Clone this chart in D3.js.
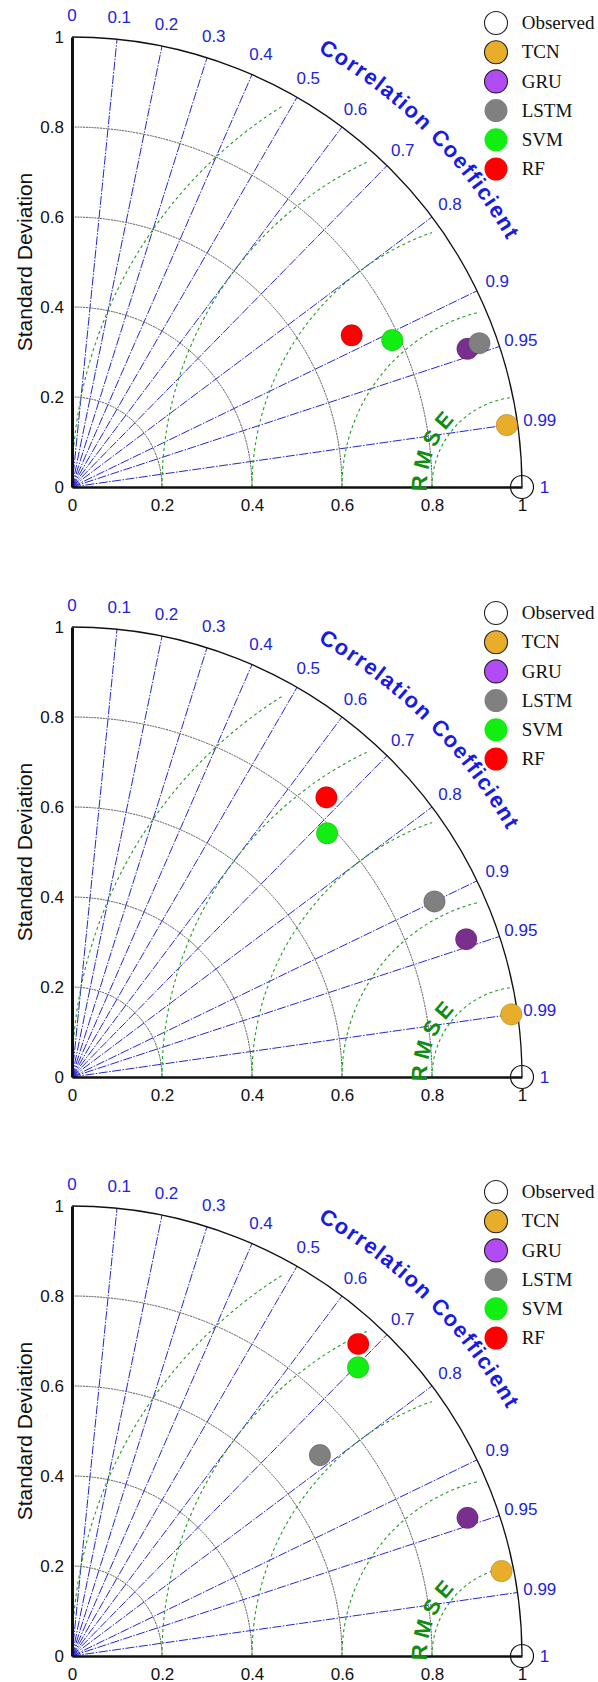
<!DOCTYPE html>
<html>
<head>
<meta charset="utf-8">
<title>Taylor diagrams</title>
<script src="https://cdnjs.cloudflare.com/ajax/libs/d3/7.8.5/d3.min.js"></script>
<style>
  body { margin: 0; background: #fff; }
</style>
</head>
<body>
<script>
// models and colours
var models = ["TCN", "GRU", "LSTM", "SVM", "RF"];
var legendColors = ["#e8ad2a", "#b14cf4", "#808080", "#12ee12", "#ff0000"];
var markerColors = ["#e8ad2a", "#7a2e8e", "#808080", "#12ee12", "#ff0000"];

// normalised standard deviation and correlation of each model, one pair per panel
var std1 = [0.976, 0.931, 0.960, 0.783, 0.707];
var cor1 = [0.990, 0.944, 0.943, 0.909, 0.879];
var std2 = [0.986, 0.928, 0.895, 0.784, 0.840];
var cor2 = [0.990, 0.944, 0.900, 0.723, 0.673];
var std3 = [0.973, 0.931, 0.709, 0.903, 0.941];
var cor3 = [0.981, 0.944, 0.777, 0.704, 0.676];

var corTicks = [0, 0.1, 0.2, 0.3, 0.4, 0.5, 0.6, 0.7, 0.8, 0.9, 0.95, 0.99, 1];
var stdTicks = [0, 0.2, 0.4, 0.6, 0.8, 1];
var stdArcs = [0.2, 0.4, 0.6, 0.8];
var rmsArcs = [0.2, 0.4, 0.6, 0.8, 1.0];

var width = 598, height = 1682, R = 450;
var panelX = 72;
var panelY = [487, 1077, 1656];
var sans = "Liberation Sans, Arial, sans-serif";
var serif = "Liberation Serif, Times New Roman, serif";

var svg = d3.select("body").append("svg")
    .attr("width", width)
    .attr("height", height)
    .attr("font-family", sans);
svg.append("rect").attr("width", width).attr("height", height).attr("fill", "#fff");

var r = d3.scaleLinear().domain([0, 1]).range([0, R]);
var ry = d3.scaleLinear().domain([0, 1]).range([0, -R]);

function polar(std, c) {
    return [r(std * c), -r(std * Math.sqrt(Math.max(0, 1 - c * c)))];
}

function drawPanel(g, stds, cors, idx) {
    // correlation rays
    g.selectAll(".ray")
        .data(corTicks.filter(function(c) { return c > 0 && c < 1; }))
        .enter().append("line")
        .attr("x1", 0).attr("y1", 0)
        .attr("x2", function(c) { return polar(1, c)[0]; })
        .attr("y2", function(c) { return polar(1, c)[1]; })
        .attr("stroke", "#2626d0")
        .attr("stroke-width", 1)
        .attr("stroke-dasharray", "9,1.5,1.5,1.5");

    // std arcs
    g.selectAll(".sarc")
        .data(stdArcs)
        .enter().append("path")
        .attr("d", function(v) {
            var p = d3.path();
            p.arc(0, 0, r(v), -Math.PI / 2, 0);
            return p.toString();
        })
        .attr("fill", "none")
        .attr("stroke", "#555")
        .attr("stroke-width", 1)
        .attr("stroke-dasharray", "2,0.8");

    // rmse arcs around the observed point
    g.selectAll(".rarc")
        .data(rmsArcs)
        .enter().append("path")
        .attr("d", function(v) {
            var phi = Math.acos(-v / 2) + 2 * Math.PI / 180;
            var p = d3.path();
            p.arc(r(1), 0, r(v), Math.PI, 2 * Math.PI - phi);
            return p.toString();
        })
        .attr("fill", "none")
        .attr("stroke", "#249a24")
        .attr("stroke-width", 1.1)
        .attr("stroke-dasharray", "3,3");

    // outer circle
    var outer = d3.path();
    outer.arc(0, 0, R, -Math.PI / 2, 0);
    g.append("path")
        .attr("d", outer.toString())
        .attr("fill", "none")
        .attr("stroke", "#111")
        .attr("stroke-width", 1.3);

    // axes
    var xAxis = d3.axisBottom(r)
        .tickValues(stdTicks)
        .tickSize(0).tickSizeOuter(0)
        .tickPadding(12)
        .tickFormat(d3.format(""));
    var gx = g.append("g").call(xAxis);
    gx.select(".domain").attr("stroke", "#111").attr("stroke-width", 2.6);
    gx.selectAll("text").attr("font-size", 17).attr("fill", "#111").attr("font-family", sans);

    var yAxis = d3.axisLeft(ry)
        .tickValues(stdTicks)
        .tickSize(0).tickSizeOuter(0)
        .tickPadding(8)
        .tickFormat(d3.format(""));
    var gy = g.append("g").call(yAxis);
    gy.select(".domain").attr("stroke", "#111").attr("stroke-width", 3);
    gy.selectAll("text").attr("font-size", 17).attr("fill", "#111").attr("font-family", sans);

    g.append("text")
        .attr("transform", "translate(-40," + ry(0.5) + ") rotate(-90)")
        .attr("text-anchor", "middle")
        .attr("font-size", 21)
        .attr("fill", "#111")
        .text("Standard Deviation");

    // correlation labels
    g.selectAll(".clab")
        .data(corTicks)
        .enter().append("text")
        .attr("x", function(c) { return polar(1.05, c)[0]; })
        .attr("y", function(c) { return polar(1.05, c)[1]; })
        .attr("dy", "0.36em")
        .attr("text-anchor", "middle")
        .attr("font-size", 17)
        .attr("fill", "#2323dc")
        .text(function(c) { return c; });

    // curved titles
    var tp = d3.path();
    tp.arc(0, 0, 500, -75 * Math.PI / 180, -15 * Math.PI / 180);
    g.append("path").attr("id", "corPath" + idx).attr("d", tp.toString()).attr("fill", "none");
    g.append("text")
        .attr("font-size", 22)
        .attr("font-weight", "bold")
        .attr("letter-spacing", 1.5)
        .attr("fill", "#1a1ae6")
        .append("textPath")
        .attr("href", "#corPath" + idx)
        .attr("startOffset", "50%")
        .attr("text-anchor", "middle")
        .text("Correlation Coefficient");

    var rp = d3.path();
    rp.arc(r(1), 0, 95, 160 * Math.PI / 180, 260 * Math.PI / 180);
    g.append("path").attr("id", "rmsPath" + idx).attr("d", rp.toString()).attr("fill", "none");
    g.append("text")
        .attr("font-size", 22)
        .attr("font-weight", "bold")
        .attr("letter-spacing", -0.5)
        .attr("fill", "#128c12")
        .append("textPath")
        .attr("href", "#rmsPath" + idx)
        .attr("startOffset", "41%")
        .attr("text-anchor", "middle")
        .text("R M S E");

    // observed point
    g.append("circle")
        .attr("cx", r(1)).attr("cy", 0).attr("r", 11.5)
        .attr("fill", "none")
        .attr("stroke", "#111")
        .attr("stroke-width", 1.2);

    // model points
    g.selectAll(".pt")
        .data(models)
        .enter().append("circle")
        .attr("cx", function(d, i) { return polar(stds[i], cors[i])[0]; })
        .attr("cy", function(d, i) { return polar(stds[i], cors[i])[1]; })
        .attr("r", 10.8)
        .attr("fill", function(d, i) { return markerColors[i]; })
        .attr("stroke", "rgba(0,0,0,0.2)")
        .attr("stroke-width", 0.8);

    // legend
    var leg = g.append("g").attr("transform", "translate(424,-464)");
    var names = ["Observed"].concat(models);
    var fills = ["#fff"].concat(legendColors);
    var row = leg.selectAll(".row")
        .data(names)
        .enter().append("g")
        .attr("transform", function(d, i) { return "translate(0," + (i * 29.2) + ")"; });
    row.append("circle")
        .attr("r", 11.5)
        .attr("fill", function(d, i) { return fills[i]; })
        .attr("stroke", function(d, i) { return i < 3 ? "#222" : "none"; })
        .attr("stroke-width", 1.1);
    row.append("text")
        .attr("x", 25.7)
        .attr("dy", "0.33em")
        .attr("font-family", serif)
        .attr("font-size", 19)
        .attr("fill", "#111")
        .text(function(d) { return d; });
}

var panels = [[std1, cor1], [std2, cor2], [std3, cor3]];
panels.forEach(function(p, i) {
    var g = svg.append("g").attr("transform", "translate(" + panelX + "," + panelY[i] + ")");
    drawPanel(g, p[0], p[1], i);
});
</script>
</body>
</html>
